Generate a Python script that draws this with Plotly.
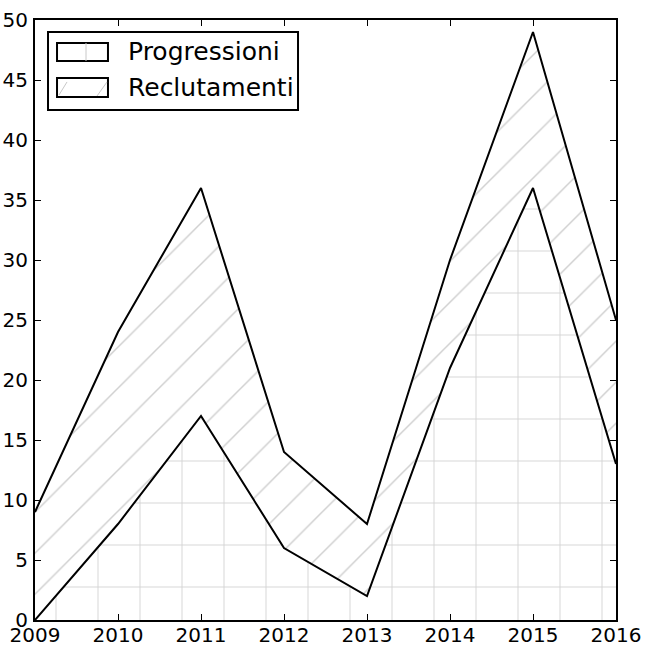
import plotly.graph_objects as go

years = [2009, 2010, 2011, 2012, 2013, 2014, 2015, 2016]
progressioni = [0, 8, 17, 6, 2, 21, 36, 13]
reclutamenti = [9, 16, 19, 8, 6, 9, 13, 12]
y_ticks = [0, 5, 10, 15, 20, 25, 30, 35, 40, 45, 50]
series_names = ["Progressioni", "Reclutamenti"]

fig = go.Figure()
fig.add_trace(go.Scatter(
    x=years, y=progressioni, name=series_names[0], stackgroup="one",
    mode="lines", line=dict(color="black", width=2), showlegend=False,
    fillcolor="white",
    fillpattern=dict(shape="+", size=42, solidity=0.04, fgcolor="#a0a0a0", bgcolor="white"),
))
fig.add_trace(go.Scatter(
    x=years, y=reclutamenti, name=series_names[1], stackgroup="one",
    mode="lines", line=dict(color="black", width=2), showlegend=False,
    fillcolor="white",
    fillpattern=dict(shape="/", size=29, solidity=0.05, fgcolor="#a0a0a0", bgcolor="white"),
))

axis_common = dict(
    showgrid=False, zeroline=False, showline=True, linecolor="black", linewidth=2,
    mirror="ticks", ticks="inside", ticklen=6, tickcolor="black", tickwidth=1,
    tickfont=dict(family="DejaVu Sans", size=20, color="black"),
    automargin=False,
)
fig.update_xaxes(range=[2009, 2016], tickvals=years, ticktext=[str(y) for y in years],
                 ticklabelstandoff=-4, **axis_common)
fig.update_yaxes(range=[0, 50], tickvals=y_ticks, ticklabelstandoff=1, **axis_common)

# manual legend (box, patches, labels) in paper coordinates
shapes = [
    dict(type="rect", xref="paper", yref="paper", x0=0.0224, x1=0.4527, y0=0.850, y1=0.980,
         fillcolor="white", line=dict(color="black", width=2), layer="above"),
    dict(type="rect", xref="paper", yref="paper", x0=0.0379, x1=0.1256, y0=0.9317, y1=0.9617,
         fillcolor="white", line=dict(color="black", width=2), layer="above"),
    dict(type="line", xref="paper", yref="paper", x0=0.0878, x1=0.0878, y0=0.9317, y1=0.9617,
         line=dict(color="#c8c8c8", width=1), layer="above"),
    dict(type="rect", xref="paper", yref="paper", x0=0.0379, x1=0.1256, y0=0.8717, y1=0.9033,
         fillcolor="white", line=dict(color="black", width=2), layer="above"),
    dict(type="line", xref="paper", yref="paper", x0=0.0413, x1=0.0551, y0=0.8750, y1=0.8967,
         line=dict(color="#c8c8c8", width=1), layer="above"),
    dict(type="line", xref="paper", yref="paper", x0=0.1067, x1=0.1239, y0=0.8733, y1=0.8967,
         line=dict(color="#c8c8c8", width=1), layer="above"),
]
annotations = [
    dict(xref="paper", yref="paper", x=0.1566, y=0.9467, text=series_names[0], showarrow=False,
         xanchor="left", yanchor="middle", font=dict(family="DejaVu Sans", size=25, color="black")),
    dict(xref="paper", yref="paper", x=0.1566, y=0.8883, text=series_names[1], showarrow=False,
         xanchor="left", yanchor="middle", font=dict(family="DejaVu Sans", size=25, color="black")),
]

fig.update_layout(
    width=646, height=646,
    margin=dict(l=35, r=30, t=20, b=26),
    paper_bgcolor="white", plot_bgcolor="white",
    showlegend=False,
    shapes=shapes, annotations=annotations,
)
fig.write_html(
    "out.html",
    config={"displayModeBar": False},
    post_script="document.body.style.margin='0px';document.body.style.overflow='hidden';",
)
